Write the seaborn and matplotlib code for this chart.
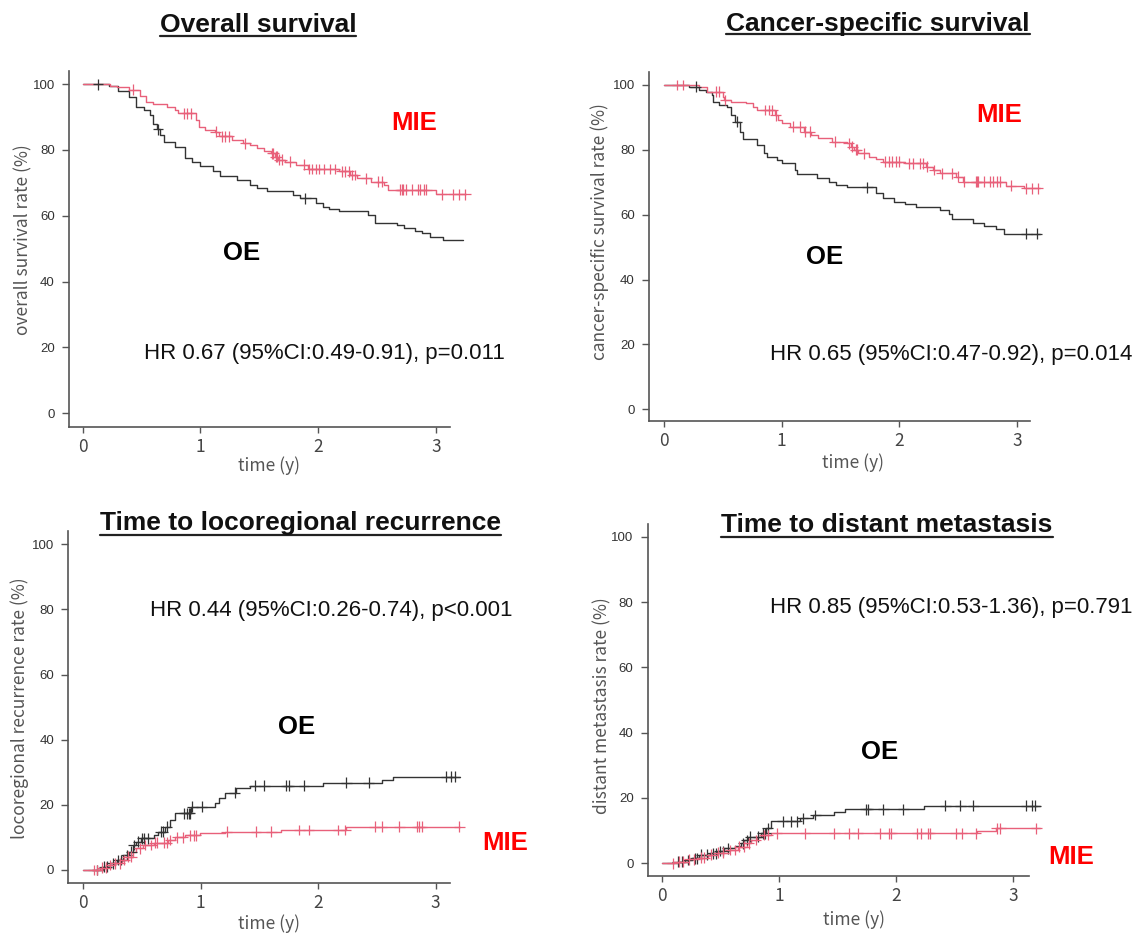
import numpy as np
import pandas as pd
import matplotlib
matplotlib.use("Agg")
import matplotlib.pyplot as plt
from matplotlib.lines import Line2D
import seaborn as sns

# ---- values ----
# event times (years) and level after each event (%), censor times, end of follow-up

# overall survival
os_oe_t = [0.22, 0.30, 0.39, 0.45, 0.52, 0.57, 0.60, 0.63, 0.66, 0.69, 0.78, 0.87, 0.93, 1.00, 1.11, 1.17,
           1.31, 1.42, 1.48, 1.57, 1.79, 1.85, 1.98, 2.04, 2.09, 2.18, 2.42, 2.48, 2.67, 2.73, 2.82, 2.88,
           2.95, 3.06]
os_oe_s = [99.5, 98, 96, 93, 92, 90.5, 88, 86.3, 84.5, 82.5, 80.8, 77.5, 76.5, 75, 73.5, 72,
           71, 69.5, 68.5, 67.4, 66.4, 65.3, 63.8, 62.8, 62, 61.6, 60.3, 57.7, 57.2, 56.2, 55.5, 54.7,
           53.5, 52.7]
os_oe_c = [0.13, 0.64, 1.89]
os_oe_end = 3.23

os_mie_t = [0.23, 0.29, 0.39, 0.49, 0.54, 0.60, 0.72, 0.78, 0.81, 0.96, 0.99, 1.04, 1.12, 1.16, 1.27, 1.36,
            1.42, 1.48, 1.54, 1.60, 1.63, 1.66, 1.72, 1.81, 1.91, 2.18, 2.27, 2.33, 2.45, 2.56, 2.59, 3.00]
os_mie_s = [99.5, 99, 98.3, 96.3, 94.7, 93.9, 93.2, 92.2, 91.2, 89.2, 87.1, 86.1, 85.6, 84.2, 83, 82,
            81.5, 80.5, 79.8, 79, 78, 77, 76.5, 75.5, 74.2, 73.5, 72.4, 71.4, 70.4, 69.4, 67.9, 66.5]
os_mie_c = [0.43, 0.86, 0.89, 0.92, 1.13, 1.18, 1.21, 1.24, 1.38, 1.61, 1.62, 1.64, 1.65, 1.67, 1.69, 1.76,
            1.88, 1.92, 1.95, 1.98, 2.01, 2.05, 2.10, 2.14, 2.20, 2.23, 2.26, 2.29, 2.31, 2.41, 2.51, 2.54,
            2.70, 2.71, 2.72, 2.75, 2.80, 2.85, 2.87, 2.90, 2.92, 3.05, 3.15, 3.20, 3.25]
os_mie_end = 3.26

# cancer-specific survival
css_oe_t = [0.21, 0.30, 0.36, 0.41, 0.42, 0.47, 0.54, 0.57, 0.60, 0.65, 0.67, 0.79, 0.85, 0.88, 0.96, 1.00,
            1.11, 1.13, 1.30, 1.40, 1.46, 1.56, 1.80, 1.86, 1.96, 2.05, 2.14, 2.35, 2.42, 2.45, 2.63, 2.72,
            2.82, 2.89]
css_oe_s = [99.5, 98.5, 97.7, 96.9, 94.9, 93.8, 93.3, 90.7, 88.7, 85.6, 83.4, 81.5, 78.9, 77.9, 76.9, 75.8,
            73.8, 72.6, 71.2, 70.2, 69.2, 68.4, 66.6, 65.1, 64, 63.3, 62.5, 61.5, 60.2, 58.6, 57.5, 56.5,
            55.5, 54.1]
css_oe_c = [0.27, 0.62, 1.73, 3.08, 3.17]
css_oe_end = 3.20

css_mie_t = [0.30, 0.37, 0.50, 0.51, 0.57, 0.70, 0.76, 0.79, 0.94, 0.97, 1.00, 1.07, 1.19, 1.25, 1.31, 1.43,
             1.56, 1.59, 1.62, 1.65, 1.74, 1.80, 1.86, 2.05, 2.23, 2.29, 2.35, 2.48, 2.54, 2.91, 3.06]
css_mie_s = [99.3, 97.9, 96.4, 95.4, 94.9, 94.3, 93.3, 92.3, 90.7, 89.2, 88.2, 87.2, 85.6, 84.6, 83.6, 82.5,
             82, 81, 80, 78.9, 77.9, 77.2, 76.4, 75.8, 74.8, 73.8, 72.8, 71.7, 70.2, 68.9, 68.1]
css_mie_c = [0.11, 0.16, 0.44, 0.47, 0.52, 0.86, 0.89, 0.92, 0.95, 1.10, 1.16, 1.20, 1.24, 1.45, 1.57, 1.60,
             1.63, 1.64, 1.70, 1.88, 1.91, 1.94, 1.97, 2.00, 2.08, 2.12, 2.18, 2.20, 2.24, 2.30, 2.36, 2.45,
             2.50, 2.55, 2.65, 2.66, 2.67, 2.72, 2.77, 2.80, 2.83, 2.86, 2.95, 3.08, 3.13, 3.18]
css_mie_end = 3.20

# locoregional recurrence (cumulative %)
lr_oe_t = [0.17, 0.23, 0.29, 0.34, 0.39, 0.42, 0.45, 0.49, 0.60, 0.64, 0.70, 0.74, 0.78, 0.92, 1.12, 1.16,
           1.21, 1.30, 1.42, 2.04, 2.54, 2.64]
lr_oe_s = [1.0, 2.0, 3.1, 4.6, 5.6, 7.7, 8.7, 9.7, 10.7, 11.8, 13.3, 15.4, 17.4, 19.4, 20.5, 22,
           23.7, 25.1, 25.9, 26.8, 27.6, 28.7]
lr_oe_c = [0.12, 0.18, 0.20, 0.25, 0.30, 0.32, 0.37, 0.41, 0.43, 0.47, 0.50, 0.52, 0.55, 0.66, 0.68, 0.71,
           0.86, 0.88, 0.90, 0.91, 0.93, 1.01, 1.29, 1.46, 1.54, 1.73, 1.75, 1.88, 2.24, 2.43, 3.09, 3.13, 3.16]
lr_oe_end = 3.21

lr_mie_t = [0.14, 0.20, 0.26, 0.33, 0.37, 0.42, 0.45, 0.51, 0.60, 0.72, 0.78, 0.87, 0.99, 1.21, 1.68, 2.24]
lr_mie_s = [0.7, 1.5, 2.0, 3.1, 4.1, 5.6, 6.6, 7.7, 8.4, 9.2, 10.0, 10.7, 11.3, 11.8, 12.3, 13.3]
lr_mie_c = [0.09, 0.12, 0.16, 0.19, 0.23, 0.27, 0.31, 0.35, 0.38, 0.41, 0.48, 0.53, 0.58, 0.61, 0.63, 0.69,
            0.71, 0.74, 0.80, 0.85, 0.91, 0.94, 0.96, 1.22, 1.47, 1.60, 1.84, 1.92, 2.17, 2.23, 2.48, 2.54,
            2.69, 2.84, 2.86, 2.88, 3.20]
lr_mie_end = 3.21

# distant metastasis (cumulative %)
dm_oe_t = [0.13, 0.19, 0.25, 0.31, 0.41, 0.47, 0.53, 0.62, 0.67, 0.70, 0.73, 0.84, 0.89, 0.93, 1.18, 1.29,
           1.47, 1.56, 2.24]
dm_oe_s = [0.5, 1.0, 1.5, 2.6, 3.1, 3.8, 4.6, 5.3, 6.1, 7.1, 8.2, 9.2, 10.7, 12.8, 13.8, 14.8,
           15.6, 16.5, 17.6]
dm_oe_c = [0.13, 0.17, 0.22, 0.28, 0.30, 0.33, 0.38, 0.43, 0.46, 0.49, 0.52, 0.56, 0.69, 0.72, 0.75, 0.82,
           0.86, 0.88, 0.90, 1.03, 1.10, 1.15, 1.20, 1.31, 1.74, 1.76, 1.89, 2.06, 2.42, 2.55, 2.66, 3.11,
           3.16, 3.19]
dm_oe_end = 3.23

dm_mie_t = [0.10, 0.22, 0.31, 0.39, 0.47, 0.56, 0.65, 0.72, 0.76, 0.81, 0.85, 0.93, 2.69, 2.85]
dm_mie_s = [0.5, 1.2, 1.7, 2.6, 3.3, 4.1, 5.1, 6.1, 7.1, 8.0, 8.7, 9.2, 10.0, 10.7]
dm_mie_c = [0.09, 0.14, 0.18, 0.23, 0.27, 0.33, 0.36, 0.42, 0.48, 0.52, 0.58, 0.62, 0.66, 0.70, 0.74, 0.80,
            0.87, 0.90, 0.98, 1.22, 1.47, 1.60, 1.67, 1.86, 1.94, 1.96, 2.18, 2.21, 2.27, 2.29, 2.51, 2.56,
            2.68, 2.86, 2.89, 3.20]
dm_mie_end = 3.23

titles = ["Overall survival", "Cancer-specific survival",
          "Time to locoregional recurrence", "Time to distant metastasis"]
ylabels = ["overall survival rate (%)", "cancer-specific survival rate (%)",
           "locoregional recurrence rate (%)", "distant metastasis rate (%)"]
hr_texts = ["HR 0.67 (95%CI:0.49-0.91), p=0.011", "HR 0.65 (95%CI:0.47-0.92), p=0.014",
            "HR 0.44 (95%CI:0.26-0.74), p<0.001", "HR 0.85 (95%CI:0.53-1.36), p=0.791"]

W, H = 1146, 934
OE_COL = "#333333"
MIE_COL = "#E8607A"
CJK = ["Noto Sans CJK JP", "DejaVu Sans"]


def px(x, y):
    return x / W, 1 - y / H


def curve_frame(group, start, times, levels, end):
    xs = [0.0] + list(times) + [end]
    ys = [start] + list(levels) + [levels[-1]]
    return pd.DataFrame({"time": xs, "value": ys, "group": group})


def censor_frame(group, start, times, levels, cens):
    idx = np.searchsorted(times, cens, side="right")
    vals = [start if i == 0 else levels[i - 1] for i in idx]
    return pd.DataFrame({"time": cens, "value": vals, "group": group})


sns.set_theme(style="ticks")
plt.rcParams["font.family"] = ["Liberation Sans", "DejaVu Sans"]

fig = plt.figure(figsize=(W / 100, H / 100), dpi=100)

panels = [
    dict(rect=(68.6, 71, 449.9, 426.7), xlim=(-0.12, 3.12), ylim=(-4.07, 104.0), start=100,
         oe=(os_oe_t, os_oe_s, os_oe_c, os_oe_end), mie=(os_mie_t, os_mie_s, os_mie_c, os_mie_end),
         mie_xy=(2.82, 88.1), oe_xy=(1.35, 48.8), hr_xy=(0.52, 18.2),
         title_xy=(258, 32.3), ul=35.5, ylab_xy=(23, 240), xlab_xy=(269, 466)),
    dict(rect=(648.7, 71.7, 1030.3, 420.7), xlim=(-0.13, 3.115), ylim=(-3.5, 104.1), start=100,
         oe=(css_oe_t, css_oe_s, css_oe_c, css_oe_end), mie=(css_mie_t, css_mie_s, css_mie_c, css_mie_end),
         mie_xy=(2.85, 90.7), oe_xy=(1.37, 46.9), hr_xy=(0.90, 17.0),
         title_xy=(878, 31), ul=34, ylab_xy=(600, 232), xlab_xy=(853, 463)),
    dict(rect=(67.9, 531, 449.8, 883), xlim=(-0.13, 3.12), ylim=(-4.0, 104.1), start=0,
         oe=(lr_oe_t, lr_oe_s, lr_oe_c, lr_oe_end), mie=(lr_mie_t, lr_mie_s, lr_mie_c, lr_mie_end),
         mie_xy=(3.59, 8.2), oe_xy=(1.82, 44.0), hr_xy=(0.57, 79.8),
         title_xy=(300, 530), ul=534.5, ylab_xy=(20, 708), xlab_xy=(269, 924)),
    dict(rect=(647.5, 524, 1028.7, 876), xlim=(-0.127, 3.134), ylim=(-3.89, 103.9), start=0,
         oe=(dm_oe_t, dm_oe_s, dm_oe_c, dm_oe_end), mie=(dm_mie_t, dm_mie_s, dm_mie_c, dm_mie_end),
         mie_xy=(3.50, 2.0), oe_xy=(1.86, 34.0), hr_xy=(0.92, 78.3),
         title_xy=(887, 531.7), ul=536.5, ylab_xy=(602, 706), xlab_xy=(854, 920)),
]

title_artists = []
for i, p in enumerate(panels):
    l, t, r, b = p["rect"]
    ax = fig.add_axes([l / W, 1 - b / H, (r - l) / W, (b - t) / H])
    ax.set_facecolor("white")

    lines = pd.concat([curve_frame("OE", p["start"], *p["oe"][:2], p["oe"][3]),
                       curve_frame("MIE", p["start"], *p["mie"][:2], p["mie"][3])])
    cens = pd.concat([censor_frame("OE", p["start"], *p["oe"][:3]),
                      censor_frame("MIE", p["start"], *p["mie"][:3])])
    pal = {"OE": OE_COL, "MIE": MIE_COL}

    sns.lineplot(data=lines, x="time", y="value", hue="group", palette=pal, estimator=None,
                 sort=False, drawstyle="steps-post", linewidth=1.0, legend=False, ax=ax, clip_on=False)
    sns.scatterplot(data=cens, x="time", y="value", hue="group", palette=pal, marker="+",
                    s=60, linewidth=0.9, legend=False, ax=ax, clip_on=False, zorder=3)

    ax.set_xlim(*p["xlim"])
    ax.set_ylim(*p["ylim"])
    ax.set_xticks([0, 1, 2, 3])
    ax.set_yticks([0, 20, 40, 60, 80, 100])
    ax.set_xlabel("")
    ax.set_ylabel("")
    for s in ["top", "right"]:
        ax.spines[s].set_visible(False)
    for s in ["left", "bottom"]:
        ax.spines[s].set_color("#555555")
        ax.spines[s].set_linewidth(1.2)
    ax.tick_params(axis="both", direction="out", color="#555555", width=1.0)
    ax.tick_params(axis="y", length=5, pad=5, labelsize=9.5, labelcolor="#333333")
    ax.tick_params(axis="x", length=4.5, pad=3.5, labelsize=12.5, labelcolor="#444444")
    for lab in ax.get_xticklabels():
        lab.set_family(CJK)

    ax.text(*p["mie_xy"], "MIE", color="#FF0000", fontsize=18.5, fontweight="bold",
            ha="center", va="center")
    ax.text(*p["oe_xy"], "OE", color="black", fontsize=18.5, fontweight="bold",
            ha="center", va="center")
    ax.text(*p["hr_xy"], hr_texts[i], color="#111111", fontsize=16, ha="left", va="center")

    tx, ty = px(*p["title_xy"])
    title_artists.append((fig.text(tx, ty, titles[i], fontsize=19, fontweight="bold",
                                   ha="center", va="baseline", color="#111111"), p["ul"]))
    yx, yy = px(*p["ylab_xy"])
    fig.text(yx, yy, ylabels[i], rotation=90, fontsize=12.5, color="#555555",
             ha="center", va="center", family=CJK)
    lx, ly = px(*p["xlab_xy"])
    fig.text(lx, ly, "time (y)", fontsize=12.5, color="#555555", ha="center", va="center",
             family=CJK)

# underline the panel titles
fig.canvas.draw()
renderer = fig.canvas.get_renderer()
for art, uy in title_artists:
    bb = art.get_window_extent(renderer)
    fig.add_artist(Line2D([bb.x0 / W, bb.x1 / W], [1 - uy / H] * 2, transform=fig.transFigure,
                          color="#222222", linewidth=1.6))

fig.savefig("out.png", dpi=100)
plt.close(fig)
